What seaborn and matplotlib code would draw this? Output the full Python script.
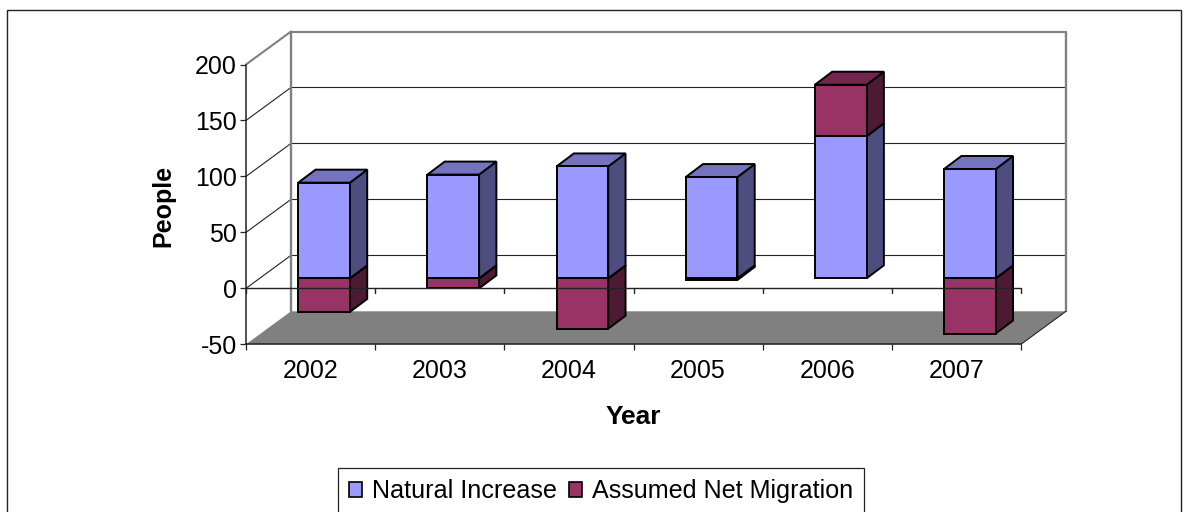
import matplotlib
matplotlib.use("Agg")
import matplotlib.pyplot as plt
import pandas as pd
import seaborn as sns
from matplotlib.patches import Polygon, Rectangle
from matplotlib.lines import Line2D
from matplotlib.transforms import Affine2D

# Annual population change by component
years = ["2002", "2003", "2004", "2005", "2006", "2007"]
natural_increase = [85.5, 92.7, 100, 90.5, 127, 97.7]
net_migration = [-30, -9, -45, -1.5, 46, -49.3]
y_ticks = [-50, 0, 50, 100, 150, 200]

NATURAL_FRONT, NATURAL_SIDE, NATURAL_TOP = "#9999FF", "#4D4D80", "#7373BF"
MIGRATION_FRONT, MIGRATION_SIDE, MIGRATION_TOP = "#993366", "#4D1A33", "#73264D"
WALL_GREY = "#808080"
LINE_DARK = "#222222"

W, H = 1190, 512
LEFT, RIGHT, TOP, BOTTOM = 246, 1021, 64.5, 344.3

sns.set_theme(style="white")
plt.rcParams["font.family"] = ["Liberation Sans", "DejaVu Sans"]
plt.rcParams["axes.unicode_minus"] = False
plt.rcParams["text.color"] = "black"
plt.rcParams["axes.labelcolor"] = "black"
plt.rcParams["xtick.color"] = "black"
plt.rcParams["ytick.color"] = "black"

fig = plt.figure(figsize=(W / 100, H / 100), dpi=100, facecolor="white")
ax = fig.add_axes([LEFT / W, 1 - BOTTOM / H, (RIGHT - LEFT) / W, (BOTTOM - TOP) / H])
ax.patch.set_visible(False)

df = pd.DataFrame({"year": years, "natural": natural_increase, "migration": net_migration})
migration_base = [n if m > 0 else 0 for n, m in zip(natural_increase, net_migration)]

sns.barplot(data=df, x="year", y="natural", color=NATURAL_FRONT, saturation=1, width=0.4,
            errorbar=None, edgecolor="black", linewidth=1.4, ax=ax)
n_bars = len(ax.patches)
sns.barplot(data=df, x="year", y="migration", bottom=migration_base, color=MIGRATION_FRONT,
            saturation=1, width=0.4, errorbar=None, edgecolor="black", linewidth=1.4, ax=ax)
ax.set_xlim(-0.5, len(years) - 0.5)
ax.set_ylim(y_ticks[0], y_ticks[-1])

# Conversion from screen pixels to data units for the oblique projection
px_x = (len(years)) / (RIGHT - LEFT)
px_y = (y_ticks[-1] - y_ticks[0]) / (BOTTOM - TOP)


def plane(dx_px, dy_px):
    return Affine2D().translate(dx_px * px_x, dy_px * px_y) + ax.transData


DEPTH_X, DEPTH_Y = 45, 33
back = plane(DEPTH_X, DEPTH_Y)
xmin, xmax = ax.get_xlim()
ymin, ymax = ax.get_ylim()

# Floor
d_x, d_y = DEPTH_X * px_x, DEPTH_Y * px_y
ax.add_patch(Polygon([(xmin, ymin), (xmax, ymin), (xmax + d_x, ymin + d_y), (xmin + d_x, ymin + d_y)],
                     closed=True, facecolor=WALL_GREY, edgecolor="none", zorder=0.5, clip_on=False))

# Gridlines on the side wall and the back wall
for v in y_ticks[1:]:
    colour = WALL_GREY if v == ymax else LINE_DARK
    width = 1.5 if v == ymax else 0.8
    ax.add_line(Line2D([xmin, xmin + d_x], [v, v + d_y], color=colour, lw=width, zorder=0.6, clip_on=False))
    ax.add_line(Line2D([xmin, xmax], [v, v], transform=back, color=colour, lw=width, zorder=0.6, clip_on=False))
for x_edge in (xmin, xmax):
    ax.add_line(Line2D([x_edge, x_edge], [ymin, ymax], transform=back, color=WALL_GREY, lw=1.7,
                       zorder=0.7, clip_on=False))
ax.add_line(Line2D([xmax, xmax + d_x], [ymin, ymin + d_y], color=LINE_DARK, lw=0.8, zorder=0.7, clip_on=False))

# Bars sit part way into the depth of the chart
shift = plane(13.5, 10)
BAR_DX, BAR_DY = 17.3 * px_x, 13 * px_y
rects = list(ax.patches)[:2 * len(years)]
shades = [(NATURAL_SIDE, NATURAL_TOP)] * n_bars + [(MIGRATION_SIDE, MIGRATION_TOP)] * (len(rects) - n_bars)
order = sorted(range(len(rects)), key=lambda i: min(rects[i].get_y(), rects[i].get_y() + rects[i].get_height()))
z = 2.0
for i in order:
    r = rects[i]
    side, top = shades[i]
    x0, x1 = r.get_x(), r.get_x() + r.get_width()
    y0, y1 = sorted((r.get_y(), r.get_y() + r.get_height()))
    ax.add_patch(Polygon([(x1, y0), (x1 + BAR_DX, y0 + BAR_DY), (x1 + BAR_DX, y1 + BAR_DY), (x1, y1)],
                         closed=True, facecolor=side, edgecolor="black", lw=1.4, transform=shift,
                         zorder=z, clip_on=False, joinstyle="miter"))
    ax.add_patch(Polygon([(x0, y1), (x1, y1), (x1 + BAR_DX, y1 + BAR_DY), (x0 + BAR_DX, y1 + BAR_DY)],
                         closed=True, facecolor=top, edgecolor="black", lw=1.4, transform=shift,
                         zorder=z, clip_on=False, joinstyle="miter"))
    r.set_transform(shift)
    r.set_zorder(z + 0.01)
    r.set_clip_on(False)
    z += 0.1

# Front axis lines; the zero line runs over the hanging bars
boundaries = [i - 0.5 for i in range(len(years) + 1)]
ax.axhline(0, color=LINE_DARK, lw=1.0, zorder=5)
for b in boundaries:
    ax.add_line(Line2D([b, b], [0, -5 * px_y], color=LINE_DARK, lw=1.0, zorder=5, clip_on=False))

sns.despine(ax=ax, top=True, right=True)
for name in ("left", "bottom"):
    ax.spines[name].set_color(LINE_DARK)
    ax.spines[name].set_linewidth(1.1)
    ax.spines[name].set_zorder(6)

ax.set_yticks(y_ticks)
ax.set_xticks(boundaries)
ax.set_xticklabels([])
ax.set_xticks(range(len(years)), labels=years, minor=True)
ax.tick_params(axis="x", which="major", length=4.2, width=0.9, color=LINE_DARK, bottom=True)
ax.tick_params(axis="x", which="minor", length=0, labelsize=18, pad=10.5, bottom=True)
ax.tick_params(axis="y", length=4, width=0.9, color=LINE_DARK, labelsize=18, pad=2.5, left=True)

ax.set_xlabel("Year", fontsize=19, fontweight="bold", va="center")
ax.set_ylabel("People", fontsize=18, fontweight="bold", va="center")
ax.xaxis.set_label_coords((633 - LEFT) / (RIGHT - LEFT), (BOTTOM - 417) / (BOTTOM - TOP))
ax.yaxis.set_label_coords((163 - LEFT) / (RIGHT - LEFT), (BOTTOM - 206) / (BOTTOM - TOP))

# Chart frame, open past the lower edge of the figure
fig.add_artist(Rectangle((7 / W, -0.02), (1181 - 7) / W, 1.02 - 10 / H, transform=fig.transFigure,
                         facecolor="none", edgecolor="#222222", lw=1.0, clip_on=False, zorder=-1))

handles = [Rectangle((0, 0), 1, 1, facecolor=NATURAL_FRONT, edgecolor="black", lw=1.2),
           Rectangle((0, 0), 1, 1, facecolor=MIGRATION_FRONT, edgecolor="black", lw=1.2)]
leg = fig.legend(handles, ["Natural Increase", "Assumed Net Migration"], ncol=2, fontsize=18.1,
                 loc="upper left", bbox_to_anchor=(338 / W, 1 - 468 / H), borderaxespad=0,
                 frameon=True, fancybox=False, edgecolor="#222222", framealpha=1,
                 handlelength=0.52, handleheight=0.52, handletextpad=0.38, columnspacing=0.5,
                 borderpad=0.45, labelspacing=0)
leg.get_frame().set_linewidth(0.9)

fig.savefig("out.png", dpi=100, facecolor="white")
